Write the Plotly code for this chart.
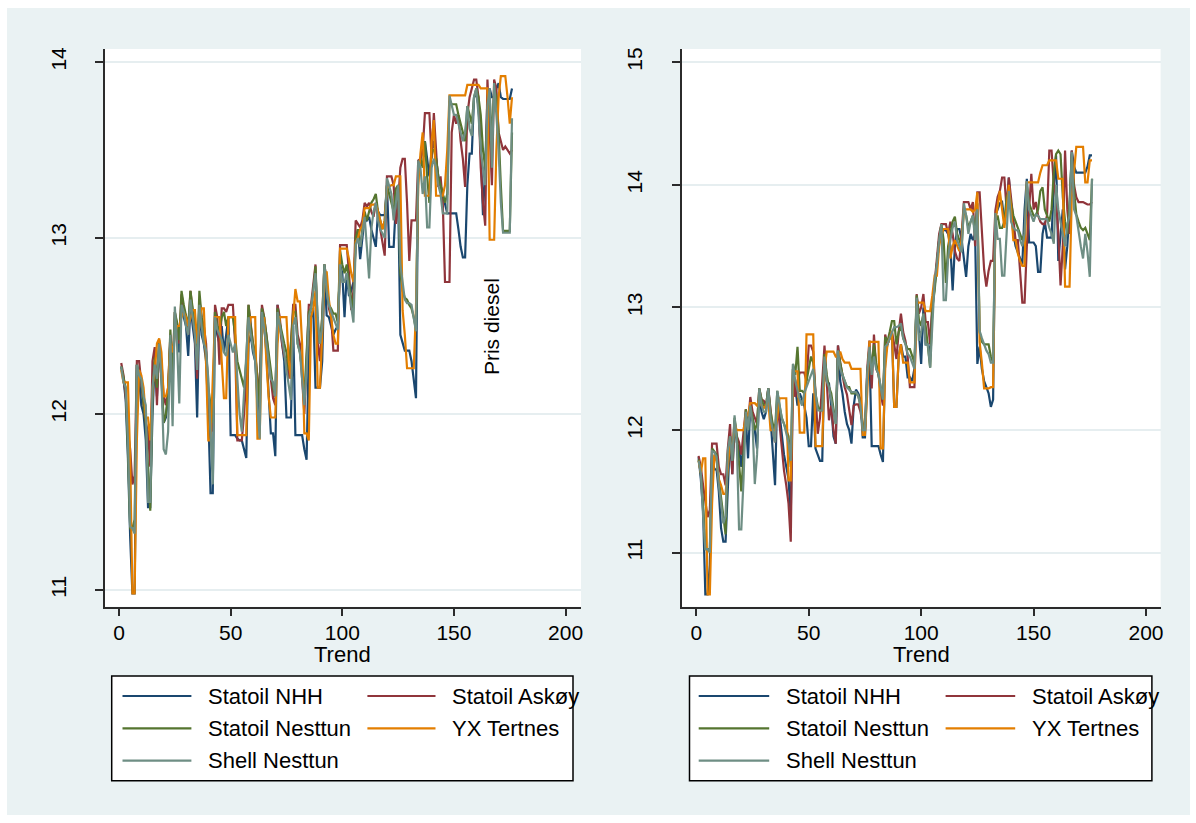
import plotly.graph_objects as go

W, H = 1196, 823

# Trend index (observation number)
trend = list(range(1, 177))

stations = ["Statoil NHH", "Statoil Askøy", "Statoil Nesttun", "YX Tertnes", "Shell Nesttun"]
colors = ["#1A476F", "#90353B", "#55752F", "#E37E00", "#6E8E84"]

# ---- Left panel: diesel price ----
diesel_nhh = [
    12.27, 12.20, 12.08, 11.75, 11.30, 10.98, 10.98, 12.28, 12.20, 12.05,
    12.00, 11.85, 11.47, 11.47, 12.00, 12.30, 12.10, 12.40, 12.20, 11.95,
    11.98, 12.10, 12.42, 12.20, 12.50, 12.45, 12.35, 12.62, 12.55, 12.50,
    12.33, 12.62, 12.50, 12.40, 11.98, 12.60, 12.45, 12.40, 12.30, 12.00,
    11.55, 11.55, 12.58, 12.45, 12.40, 12.50, 12.35, 12.45, 12.55, 11.88,
    11.88, 11.88, 11.86, 11.85, 11.85, 11.80, 11.75, 12.40, 12.45, 12.35,
    12.30, 12.10, 12.00, 12.60, 12.50, 12.35, 12.10, 11.89, 11.89, 11.76,
    12.62, 12.50, 12.40, 12.30, 11.98, 11.98, 11.98, 12.50, 11.88, 11.88,
    11.88, 11.88, 11.80, 11.74, 12.35, 12.55, 12.60, 12.15, 12.15, 12.15,
    12.30, 12.80, 12.56, 12.55, 12.50, 12.45, 12.48, 12.50, 12.85, 12.80,
    12.55, 12.80, 12.67, 12.70, 12.75, 12.95, 13.05, 12.88, 13.00, 13.12,
    13.10, 13.12, 13.05, 13.00, 12.95, 13.15, 13.13, 13.13, 13.13, 13.30,
    12.95, 12.95, 12.95, 13.20, 13.25, 12.45, 12.40, 12.36, 12.36, 12.36,
    12.30, 12.20, 12.09, 13.40, 13.45, 13.50, 13.55, 13.45, 13.35, 13.50,
    13.55, 13.45, 13.35, 13.30, 13.25, 13.20, 13.14, 13.14, 13.14, 13.14,
    13.14, 13.05, 12.95, 12.89, 12.89, 13.30, 13.48, 13.48, 13.80, 13.82,
    13.75, 13.50, 13.13, 13.40, 13.80, 13.85, 13.80, 13.80, 13.85, 13.88,
    13.80, 13.79, 13.79, 13.79, 13.79, 13.85,
]
diesel_askoy = [
    12.29, 12.22, 12.10, 11.90, 11.80, 11.60, 11.65, 12.30, 12.30, 12.15,
    12.05, 11.95, 11.90, 11.70, 12.30, 12.38, 12.05, 12.40, 12.30, 12.10,
    12.05, 12.15, 12.45, 12.25, 12.58, 12.50, 12.40, 12.68, 12.60, 12.55,
    12.45, 12.70, 12.55, 12.45, 12.20, 12.65, 12.55, 12.50, 12.40, 12.10,
    12.00, 11.90, 12.62, 12.55, 12.28, 12.60, 12.60, 12.58, 12.62, 12.62,
    12.62, 12.40, 11.85, 11.85, 11.85, 12.00, 12.20, 12.62, 12.50, 12.40,
    12.33, 12.20, 12.10, 12.62, 12.55, 12.45, 12.30, 12.20, 12.09, 12.05,
    12.62, 12.55, 12.40, 12.33, 12.30, 12.20, 12.40, 12.62, 12.62, 12.45,
    12.40, 12.20, 12.00, 12.30, 12.62, 12.62, 12.75, 12.85, 12.40, 12.30,
    12.55, 12.85, 12.75, 12.60, 12.55, 12.36, 12.36, 12.36, 12.96, 12.96,
    12.96, 12.96, 12.80, 12.59, 12.70, 13.10, 13.08, 13.06, 13.10, 13.20,
    13.18, 13.20, 13.15, 13.12, 13.20, 13.15, 13.05, 12.98, 12.90, 13.35,
    13.35, 13.35, 13.30, 13.08, 13.20, 13.40, 13.45, 13.45, 13.20, 12.87,
    13.10, 13.10, 13.10, 13.44, 13.45, 13.50, 13.71, 13.71, 13.71, 13.45,
    13.71, 13.50, 13.29, 13.35, 13.20, 12.75, 12.75, 12.75, 13.60, 13.70,
    13.65, 13.70, 13.55, 13.45, 13.29, 13.70, 13.80, 13.85, 13.90, 13.90,
    13.80, 13.40, 13.20, 13.07, 13.90, 13.60, 13.30, 13.90, 13.85, 13.60,
    13.55, 13.50, 13.52, 13.50, 13.48, 13.50,
]
diesel_nesttun = [
    12.27, 12.20, 12.15, 11.80, 11.35, 11.35, 11.40, 12.28, 12.22, 12.20,
    12.05, 11.95, 11.70, 11.45, 12.10, 12.32, 12.15, 12.42, 12.25, 11.95,
    12.00, 12.12, 12.48, 12.22, 12.58, 12.52, 12.42, 12.70, 12.62, 12.55,
    12.50, 12.70, 12.60, 12.50, 12.30, 12.70, 12.55, 12.45, 12.35, 12.15,
    12.05, 11.95, 12.58, 12.50, 12.48, 12.55, 12.58, 12.50, 12.55, 12.55,
    12.55, 12.45, 12.30, 12.25, 12.20, 12.15, 12.30, 12.62, 12.50, 12.40,
    12.35, 12.20, 12.05, 12.60, 12.55, 12.45, 12.35, 12.25, 12.15, 12.10,
    12.60, 12.52, 12.45, 12.40, 12.35, 12.25, 12.40, 12.58, 12.58, 12.40,
    12.35, 12.25, 12.10, 12.35, 12.58, 12.60, 12.70, 12.84, 12.50, 12.40,
    12.55, 12.85, 12.75, 12.62, 12.60, 12.57, 12.57, 12.52, 12.93, 12.85,
    12.80, 12.85, 12.75, 12.65, 12.60, 13.00, 13.05, 12.95, 13.05, 13.15,
    13.10, 13.15, 13.20, 13.22, 13.25, 13.15, 13.10, 13.05, 13.10, 13.30,
    13.25, 13.20, 13.15, 13.28, 13.30, 12.80, 12.70, 12.66, 12.65, 12.62,
    12.60, 12.55, 12.48, 13.40, 13.45, 13.40, 13.55, 13.35, 13.20, 13.50,
    13.50, 13.45, 13.35, 13.30, 13.25, 13.20, 13.25, 13.78, 13.76, 13.76,
    13.76, 13.70, 13.65, 13.60, 13.55, 13.75, 13.70, 13.65, 13.80, 13.85,
    13.80, 13.70, 13.50, 13.40, 13.70, 13.80, 13.55, 13.85, 13.80, 13.60,
    13.30, 13.04, 13.04, 13.04, 13.04, 13.60,
]
diesel_yx = [
    12.25, 12.18, 12.18, 12.18, 11.75, 10.98, 10.98, 11.85, 12.25, 12.22,
    12.15, 11.98, 11.98, 11.85, 12.15, 12.25, 12.40, 12.43, 12.35, 12.10,
    12.10, 12.15, 12.40, 12.35, 12.45, 12.50, 12.50, 12.55, 12.58, 12.55,
    12.50, 12.55, 12.59, 12.59, 12.40, 12.50, 12.60, 12.60, 12.28, 11.85,
    11.85, 12.20, 12.55, 12.55, 12.55, 12.30, 12.09, 12.09, 12.55, 12.55,
    12.55, 12.55, 11.88, 11.88, 11.88, 11.88, 11.88, 12.45, 12.55, 12.55,
    12.55, 11.86, 11.86, 12.45, 12.55, 12.30, 12.10, 11.98, 11.98, 11.98,
    12.40, 12.55, 12.55, 12.55, 12.55, 12.30, 12.20, 12.55, 12.71, 12.64,
    12.64, 12.40, 11.89, 11.89, 11.85, 12.55, 12.60, 12.70, 12.15, 12.15,
    12.50, 12.75, 12.81, 12.65, 12.55, 12.45, 12.40, 12.40, 12.94, 12.94,
    12.94, 12.94, 12.88, 12.80, 12.75, 12.98, 13.00, 13.05, 13.07, 13.17,
    13.17, 13.17, 13.19, 13.19, 13.19, 13.15, 13.10, 13.05, 13.10, 13.29,
    13.29, 13.30, 13.30, 13.35, 13.35, 13.35, 12.59, 12.45, 12.26, 12.26,
    12.26, 12.26, 12.60, 13.30, 13.48, 13.60, 13.24, 13.24, 13.24, 13.55,
    13.67, 13.24, 13.24, 13.24, 13.24, 13.30, 13.50, 13.81, 13.81, 13.81,
    13.81, 13.81, 13.81, 13.81, 13.81, 13.87, 13.87, 13.87, 13.87, 13.87,
    13.87, 13.85, 13.85, 13.85, 13.85, 12.99, 12.99, 12.99, 13.50, 13.80,
    13.92, 13.92, 13.92, 13.80, 13.65, 13.80,
]
diesel_shell = [
    12.27, 12.18, 12.15, 11.85, 11.36, 11.35, 11.32, 12.28, 12.22, 12.20,
    12.10, 12.05, 11.50, 11.50, 12.15, 12.28, 12.20, 12.40, 12.20, 11.80,
    11.77, 11.90, 12.45, 11.93, 12.61, 12.40, 12.06, 12.62, 12.58, 12.50,
    12.45, 12.65, 12.55, 12.45, 12.25, 12.62, 12.50, 12.40, 12.36, 12.20,
    11.90, 11.60, 12.55, 12.48, 12.45, 12.42, 12.35, 12.33, 12.45, 12.40,
    12.35, 12.40, 12.20, 12.00, 11.90, 12.10, 12.35, 12.55, 12.45, 12.38,
    12.30, 12.05, 11.86, 12.58, 12.50, 12.40, 12.30, 12.20, 12.18, 12.10,
    12.58, 12.50, 12.44, 12.35, 12.25, 12.15, 12.08, 12.50, 12.55, 12.40,
    12.35, 12.20, 12.05, 12.25, 12.55, 12.60, 12.70, 12.80, 12.55, 12.40,
    12.50, 12.85, 12.70, 12.62, 12.58, 12.55, 12.52, 12.48, 12.85, 12.75,
    12.75, 12.80, 12.70, 12.60, 12.52, 12.96, 13.00, 12.95, 13.05, 13.12,
    12.95, 12.77, 13.05, 13.15, 13.20, 13.10, 13.05, 13.02, 13.00, 13.34,
    13.30, 13.25, 13.10, 13.20, 13.30, 12.85, 12.74, 12.65, 12.63, 12.63,
    12.62, 12.55, 12.47, 13.44, 13.40, 13.25, 13.35, 13.06, 13.06, 13.40,
    13.45, 13.40, 13.30, 13.25, 13.14, 13.14, 13.14, 13.81, 13.76, 13.70,
    13.70, 13.65, 13.60, 13.55, 13.60, 13.75, 13.62, 13.58, 13.80, 13.85,
    13.70, 13.50, 13.40, 13.30, 13.75, 13.85, 13.40, 13.88, 13.70, 13.50,
    13.20, 13.03, 13.03, 13.03, 13.03, 13.68,
]

# ---- Right panel ----
pris_nhh = [
    11.78, 11.60, 11.34, 10.66, 10.66, 10.90, 11.80, 11.68, 11.68, 11.50,
    11.20, 11.09, 11.09, 11.60, 11.95, 11.64, 12.05, 11.90, 11.85, 11.70,
    11.90, 12.10, 11.77, 12.20, 12.10, 12.00, 11.85, 12.30, 12.15, 12.09,
    12.15, 12.34, 12.10, 11.80, 11.55, 12.30, 12.15, 12.00, 11.80, 11.70,
    11.60, 11.30, 12.50, 12.35, 12.20, 12.30, 12.25, 12.20, 12.10, 11.87,
    11.87, 12.30, 11.85, 11.80, 11.75, 11.75, 12.55, 12.40, 12.38, 12.20,
    11.95, 11.89, 12.69, 12.40, 12.30, 12.15, 12.05, 12.00, 11.89, 12.20,
    12.33, 12.30, 12.25, 11.94, 11.94, 12.40, 12.65, 11.87, 11.87, 11.87,
    11.87, 11.80, 11.74, 12.60, 12.70, 12.75, 12.80, 12.19, 12.19, 12.60,
    12.70, 12.60, 12.60, 12.43, 12.43, 12.40, 12.50, 13.05, 12.80, 12.54,
    13.00, 12.70, 12.70, 12.60, 13.00, 13.15, 13.35, 13.55, 13.65, 13.63,
    13.63, 13.60, 13.50, 13.14, 13.50, 13.64, 13.64, 13.55, 13.40, 13.25,
    13.50, 13.60, 13.55, 13.60, 12.54, 12.68, 12.50, 12.40, 12.35, 12.30,
    12.19, 12.25, 13.75, 13.80, 13.85, 13.86, 13.70, 13.80, 14.06, 13.80,
    13.60, 13.50, 13.44, 13.40, 13.35, 13.80, 14.05, 13.53, 13.53, 13.53,
    13.50, 13.29, 13.29, 13.60, 13.70, 13.57, 13.57, 13.57, 14.00, 14.24,
    13.38, 13.60, 13.80, 13.31, 13.50, 13.80, 14.28, 14.15, 14.10, 14.10,
    14.10, 14.10, 14.10, 14.15, 14.24, 14.24,
]
pris_askoy = [
    11.79, 11.70, 11.55, 11.40, 11.29, 11.35, 11.89, 11.89, 11.89, 11.70,
    11.64, 11.64, 11.55, 11.85, 12.05, 11.64, 12.08, 11.95, 11.90, 11.80,
    12.00, 12.17, 12.05, 12.27, 12.15, 12.10, 12.05, 12.34, 12.25, 12.24,
    12.20, 12.34, 12.15, 12.00, 11.90, 12.25, 12.05, 11.85, 11.67, 11.55,
    11.40, 11.09, 12.50, 12.27, 12.40, 12.47, 12.47, 12.47, 12.40, 12.69,
    12.69, 12.64, 12.30, 11.97, 12.10, 12.40, 12.69, 12.40, 12.08, 12.20,
    12.00, 11.89, 12.69, 12.55, 12.45, 12.35, 12.29, 12.15, 12.04, 12.20,
    12.21, 12.21, 12.15, 12.05, 12.00, 12.50, 12.73, 12.34, 12.78, 12.50,
    12.46, 12.30, 12.20, 12.78, 12.70, 12.75, 12.80, 12.70, 12.58, 12.80,
    12.95, 12.80, 12.73, 12.60, 12.35, 12.35, 12.35, 13.11, 12.95, 13.00,
    13.11, 12.88, 12.88, 12.70, 13.05, 13.20, 13.40, 13.60, 13.68, 13.68,
    13.68, 13.60, 13.70, 13.60, 13.46, 13.40, 13.38, 13.60, 13.86, 13.86,
    13.86, 13.80, 13.86, 13.50, 13.94, 13.94, 13.60, 13.31, 13.17, 13.30,
    13.38, 13.38, 13.79, 13.90, 13.95, 14.06, 14.06, 13.80, 14.06, 13.90,
    13.70, 13.55, 13.55, 13.30, 13.04, 13.04, 13.50, 13.80, 14.09, 13.80,
    13.86, 13.75, 13.70, 13.68, 13.68, 13.75, 14.28, 14.28, 14.00, 13.90,
    13.60, 13.18, 13.50, 14.28, 13.80, 13.60, 14.28, 14.00, 13.90, 13.86,
    13.86, 13.86, 13.85, 13.84, 13.84, 13.86,
]
pris_nesttun = [
    11.76, 11.65, 11.40, 11.03, 11.03, 11.03, 11.85, 11.82, 11.80, 11.60,
    11.45, 11.25, 11.15, 11.80, 11.95, 11.75, 12.10, 11.95, 11.70, 11.50,
    11.80, 12.17, 12.00, 12.20, 12.10, 12.00, 12.05, 12.34, 12.25, 12.20,
    12.20, 12.34, 12.15, 12.05, 12.00, 12.32, 12.20, 12.10, 12.05, 12.00,
    11.95, 11.70, 12.54, 12.45, 12.68, 12.32, 12.32, 12.30, 12.40, 12.50,
    12.60, 12.55, 12.30, 12.20, 12.16, 12.16, 12.62, 12.45, 12.35, 12.30,
    12.15, 12.05, 12.65, 12.55, 12.45, 12.40, 12.35, 12.35, 12.30, 12.30,
    12.30, 12.28, 12.20, 12.05, 12.00, 12.45, 12.68, 12.50, 12.70, 12.55,
    12.46, 12.35, 12.25, 12.76, 12.72, 12.80, 12.89, 12.89, 12.70, 12.80,
    12.85, 12.75, 12.70, 12.66, 12.66, 12.60, 12.55, 13.10, 12.90, 12.85,
    12.95, 12.85, 12.70, 12.51, 13.00, 13.14, 13.35, 13.55, 13.68, 13.55,
    13.20, 13.50, 13.60, 13.70, 13.74, 13.60, 13.55, 13.50, 13.80, 13.75,
    13.65, 13.70, 13.75, 13.60, 13.85, 12.80, 12.72, 12.70, 12.70, 12.70,
    12.60, 12.55, 13.70, 13.75, 13.65, 13.65, 13.70, 13.90, 13.95, 13.85,
    13.75, 13.70, 13.65, 13.60, 13.55, 13.60, 14.00, 13.85, 13.80, 13.75,
    13.75, 13.80, 13.95, 13.98, 13.80, 13.75, 13.70, 13.80, 14.10, 14.25,
    14.28, 14.25, 13.90, 13.70, 13.60, 13.85, 14.25, 13.95, 13.76, 13.70,
    13.65, 13.63, 13.65, 13.60, 13.55, 14.05,
]
pris_yx = [
    11.75, 11.65, 11.77, 11.77, 10.66, 10.66, 11.40, 11.80, 11.75, 11.60,
    11.55, 11.48, 11.48, 11.70, 11.90, 11.85, 12.05, 12.00, 12.00, 12.00,
    12.00, 12.12, 12.12, 12.22, 12.22, 12.22, 12.20, 12.25, 12.20, 12.18,
    12.20, 12.25, 12.00, 12.00, 12.00, 12.10, 12.26, 12.26, 12.26, 12.26,
    11.59, 11.59, 12.48, 12.48, 12.48, 11.98, 11.98, 11.98, 12.78, 12.78,
    12.78, 12.78, 11.87, 11.87, 11.87, 11.87, 12.50, 12.64, 12.64, 12.64,
    12.64, 12.60, 12.60, 12.64, 12.58, 12.55, 12.55, 12.55, 12.50, 12.50,
    12.50, 12.50, 12.50, 11.96, 11.96, 12.30, 12.72, 12.72, 12.72, 12.72,
    12.72, 11.85, 11.85, 12.50, 12.70, 12.75, 12.81, 12.19, 12.19, 12.60,
    12.70, 12.55, 12.55, 12.55, 12.39, 12.39, 12.39, 13.04, 13.04, 13.04,
    13.04, 12.97, 12.97, 12.97, 13.10, 13.26, 13.26, 13.50, 13.60, 13.64,
    13.64, 13.64, 13.40, 13.50, 13.55, 13.50, 13.46, 13.55, 13.80, 13.80,
    13.80, 13.80, 13.78, 13.80, 13.94, 12.72, 12.55, 12.34, 12.34, 12.34,
    12.35, 12.35, 13.70, 13.85, 13.95, 13.80, 13.65, 13.80, 14.00, 13.80,
    13.55, 13.55, 13.44, 13.38, 13.34, 13.34, 14.02, 14.02, 14.02, 14.02,
    14.02, 14.02, 14.10, 14.16, 14.16, 14.16, 14.20, 14.20, 14.20, 14.20,
    14.05, 14.05, 14.05, 13.17, 13.17, 13.17, 13.90, 14.10, 14.31, 14.31,
    14.31, 14.31, 14.02, 14.02, 14.20, 14.20,
]
pris_shell = [
    11.75, 11.65, 11.30, 11.03, 11.03, 11.00, 11.83, 11.82, 11.78, 11.55,
    11.40, 11.24, 11.30, 11.83, 11.95, 11.75, 12.12, 11.90, 11.19, 11.19,
    11.60, 12.15, 12.00, 12.20, 12.05, 11.56, 11.80, 12.34, 12.20, 12.15,
    12.15, 12.34, 12.10, 12.00, 11.90, 12.32, 12.20, 12.10, 12.05, 11.97,
    11.90, 11.75, 12.54, 12.40, 12.32, 12.25, 12.20, 12.30, 12.35, 12.40,
    12.45, 12.50, 12.30, 12.16, 12.16, 12.16, 12.60, 12.40, 12.35, 12.25,
    12.15, 12.05, 12.65, 12.50, 12.45, 12.40, 12.35, 12.33, 12.31, 12.31,
    12.31, 12.28, 12.20, 12.00, 12.00, 12.45, 12.68, 12.45, 12.60, 12.50,
    12.46, 12.35, 12.25, 12.68, 12.70, 12.75, 12.80, 12.84, 12.84, 12.85,
    12.87, 12.75, 12.70, 12.62, 12.60, 12.55, 12.50, 13.08, 12.73, 12.80,
    12.95, 12.70, 12.70, 12.51, 12.90, 13.22, 13.35, 13.55, 13.68, 13.06,
    13.06, 13.40, 13.55, 13.65, 13.70, 13.55, 13.50, 13.45, 13.85, 13.75,
    13.60, 13.70, 13.75, 13.55, 13.80, 12.81, 12.75, 12.70, 12.65, 12.62,
    12.55, 12.55, 13.77, 13.56, 13.56, 13.26, 13.26, 13.60, 13.95, 13.70,
    13.65, 13.63, 13.63, 13.55, 13.50, 13.60, 14.03, 13.80, 13.75, 13.70,
    13.76, 13.75, 13.72, 13.72, 13.72, 13.72, 13.65, 13.60, 13.52, 14.00,
    13.80, 13.70, 13.60, 13.50, 13.68, 13.75, 14.27, 13.80, 13.75, 13.60,
    13.50, 13.40, 13.60, 13.45, 13.25, 14.05,
]

left_series = [diesel_nhh, diesel_askoy, diesel_nesttun, diesel_yx, diesel_shell]
right_series = [pris_nhh, pris_askoy, pris_nesttun, pris_yx, pris_shell]

x_ticks = [0, 50, 100, 150, 200]
left_y_ticks = [11, 12, 13, 14]
right_y_ticks = [11, 12, 13, 14, 15]

FONT = "Liberation Sans, Arial, sans-serif"
AXIS_COLOR = "#2b2b2b"
GRID_COLOR = "#E6EEF0"
REGION_COLOR = "#EAF2F3"


def px_x(v):
    return v / W


def px_y(v):
    return 1 - v / H


fig = go.Figure()

for name, color, ys in zip(stations, colors, left_series):
    fig.add_trace(go.Scatter(x=trend, y=ys, mode="lines", name=name,
                             line=dict(color=color, width=2.2),
                             xaxis="x", yaxis="y", showlegend=False))
for name, color, ys in zip(stations, colors, right_series):
    fig.add_trace(go.Scatter(x=trend, y=ys, mode="lines", name=name,
                             line=dict(color=color, width=2.2),
                             xaxis="x2", yaxis="y2", showlegend=False))

common_x = dict(
    showline=True, linecolor=AXIS_COLOR, linewidth=1.5,
    ticks="outside", ticklen=8, tickwidth=1.5, tickcolor=AXIS_COLOR,
    showgrid=False, zeroline=False, automargin=False,
    ticklabelstandoff=-2,
    tickvals=x_ticks, tickfont=dict(family=FONT, size=21, color="black"),
)
common_y = dict(
    showline=True, linecolor=AXIS_COLOR, linewidth=1.5,
    ticks="outside", ticklen=8, tickwidth=1.5, tickcolor=AXIS_COLOR,
    showgrid=True, gridcolor=GRID_COLOR, gridwidth=2,
    zeroline=False, automargin=False, tickangle=-90,
    ticklabelstandoff=21,
    tickfont=dict(family=FONT, size=21, color="black"),
)

y_dom = [px_y(606.7), px_y(49)]
left_x_dom = [px_x(105), px_x(581)]
right_x_dom = [px_x(681.5), px_x(1160.6)]

fig.update_layout(
    width=W, height=H,
    margin=dict(l=0, r=0, t=0, b=0),
    paper_bgcolor="white", plot_bgcolor="white",
    showlegend=False,
    xaxis=dict(common_x, domain=left_x_dom, range=[-6.27, 206.9], anchor="y"),
    yaxis=dict(common_y, domain=y_dom, range=[10.905, 14.074], tickvals=left_y_ticks, anchor="x"),
    xaxis2=dict(common_x, domain=right_x_dom, range=[-6.6, 206.5], anchor="y2"),
    yaxis2=dict(common_y, domain=y_dom, range=[10.56, 15.108], tickvals=right_y_ticks, anchor="x2"),
)

shapes = [
    # graph region
    dict(type="rect", xref="paper", yref="paper", layer="below",
         x0=px_x(7), x1=px_x(1190), y0=px_y(815), y1=px_y(8),
         fillcolor=REGION_COLOR, line=dict(width=0)),
    # plot regions
    dict(type="rect", xref="x domain", yref="y domain", layer="below",
         x0=0, x1=1, y0=0, y1=1, fillcolor="white", line=dict(width=0)),
    dict(type="rect", xref="x2 domain", yref="y2 domain", layer="below",
         x0=0, x1=1, y0=0, y1=1, fillcolor="white", line=dict(width=0)),
]
annotations = []

# x-axis title ("Trend") under each panel, centred on the 100 tick
for xref in ("x", "x2"):
    annotations.append(dict(text="Trend", xref=xref, yref="paper",
                            x=100, y=px_y(654.5),
                            xanchor="center", yanchor="middle", showarrow=False,
                            borderpad=0,
                            font=dict(family=FONT, size=22, color="black")))

# Legend boxes with two columns: (line start, line end, text x) per column
legend_specs = [
    dict(box=(111.7, 573.0), cols=[(122.5, 191.4, 206.0), (367.4, 435.5, 450.0)]),
    dict(box=(689.5, 1151.9), cols=[(698.7, 769.2, 783.8), (945.6, 1015.2, 1030.3)]),
]
row_y = [696.0, 728.3, 760.7]
for spec in legend_specs:
    bx0, bx1 = spec["box"]
    shapes.append(dict(type="rect", xref="paper", yref="paper", layer="above",
                       x0=px_x(bx0), x1=px_x(bx1), y0=px_y(780.8), y1=px_y(676),
                       fillcolor="white", line=dict(color="black", width=1.5)))
    for i, (name, color) in enumerate(zip(stations, colors)):
        lx0, lx1, tx = spec["cols"][i % 2]
        ry = row_y[i // 2]
        shapes.append(dict(type="line", xref="paper", yref="paper", layer="above",
                           x0=px_x(lx0), x1=px_x(lx1), y0=px_y(ry), y1=px_y(ry),
                           line=dict(color=color, width=2.2)))
        annotations.append(dict(text=name, xref="paper", yref="paper",
                                x=px_x(tx), y=px_y(ry), xanchor="left", yanchor="middle",
                                showarrow=False,
                                font=dict(family=FONT, size=22, color="black")))

annotations.append(dict(text="Pris diesel", xref="x", yref="y", x=166.6, y=12.494,
                        textangle=-90, showarrow=False,
                        font=dict(family=FONT, size=21, color="black")))

fig.update_layout(shapes=shapes, annotations=annotations)

fig.write_html("out.html")
